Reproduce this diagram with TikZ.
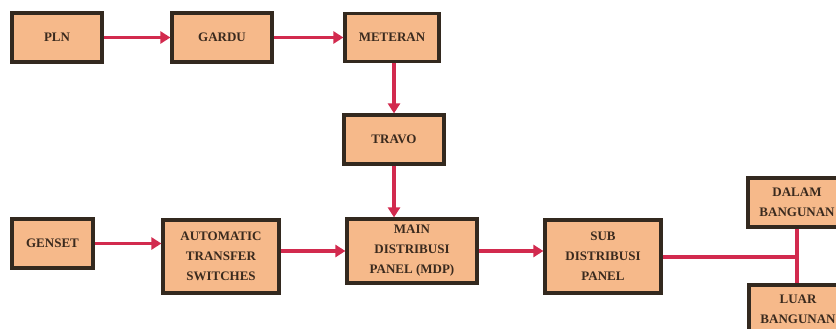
\documentclass[tikz,border=0pt]{standalone}
\usepackage{fontspec}
\setmainfont{Liberation Serif}
\usetikzlibrary{arrows.meta}
\definecolor{boxfill}{HTML}{F6B98A}
\definecolor{boxline}{HTML}{33291F}
\definecolor{arrcol}{HTML}{D22A4E}
\definecolor{txtcol}{HTML}{3A2A1E}
\tikzset{
  blk/.style={draw=boxline, fill=boxfill, line width=3.2pt, inner sep=0pt,
    align=center, text=txtcol, font=\bfseries\fontsize{13}{20}\selectfont},
  arr/.style={draw=arrcol, line width=3.4pt, -{Triangle[length=10pt,width=12pt]}},
  ln/.style={draw=arrcol, line width=3.4pt}
}
\begin{document}
\begin{tikzpicture}[x=1pt,y=-1pt]
\useasboundingbox (0,0) rectangle (836,329);
\clip (0,0) rectangle (836,329);
\node[blk, minimum width=90pt, minimum height=49pt] (pln) at (57,37.5) {PLN};
\node[blk, minimum width=100pt, minimum height=49pt] (gardu) at (222,37.5) {GARDU};
\node[blk, minimum width=94pt, minimum height=48pt] (meteran) at (392,37.5) {METERAN};
\node[blk, minimum width=100pt, minimum height=49pt] (travo) at (394,139.5) {TRAVO};
\node[blk, minimum width=81pt, minimum height=49pt] (genset) at (52.5,243.5) {GENSET};
\node[blk, minimum width=116pt, minimum height=73pt] (ats) at (221,256.5) {AUTOMATIC\\TRANSFER\\SWITCHES};
\node[blk, minimum width=130pt, minimum height=64pt] (mdp) at (412,251) {MAIN\\DISTRIBUSI\\PANEL (MDP)};
\node[blk, minimum width=116pt, minimum height=73pt] (sub) at (603,256.5) {SUB\\DISTRIBUSI\\PANEL};
\node[blk, minimum width=98pt, minimum height=49pt] (dalam) at (797,202.5) {DALAM\\BANGUNAN};
\node[blk, minimum width=98pt, minimum height=49pt] (luar) at (798,309.5) {LUAR\\BANGUNAN};
\coordinate (junc) at (797,257);
\draw[arr] (pln) -- (gardu);
\draw[arr] (gardu) -- (meteran);
\draw[arr] (meteran.south -| travo.north) -- (travo.north);
\draw[arr] (travo.south) -- (travo.south |- mdp.north);
\draw[arr] (genset.east) -- (genset.east -| ats.west);
\draw[arr] (ats.east |- mdp.west) -- (mdp.west);
\draw[arr] (mdp.east) -- (mdp.east -| sub.west);
\draw[ln] (sub.east |- junc) -- (junc);
\draw[ln] (dalam.south -| junc) -- (luar.north -| junc);
\end{tikzpicture}
\end{document}
